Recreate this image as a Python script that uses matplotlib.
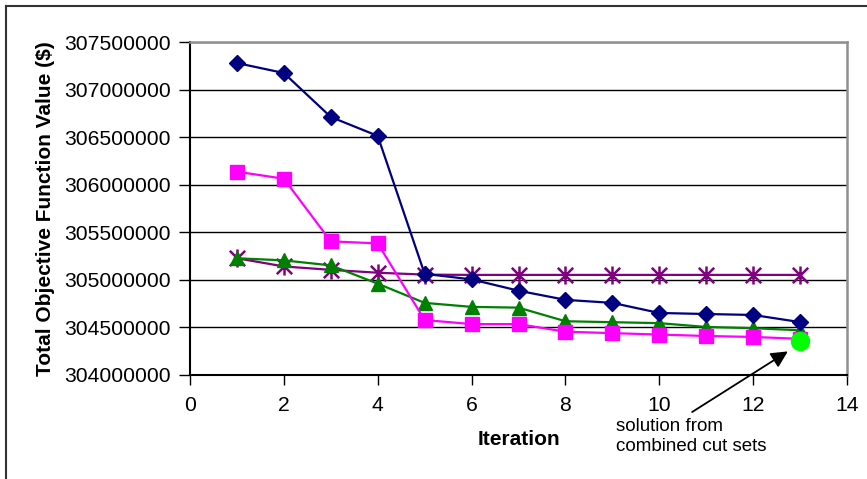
import matplotlib
matplotlib.use("Agg")
import matplotlib.pyplot as plt
from matplotlib.lines import Line2D
from matplotlib.path import Path

plt.rcParams['font.family'] = ['Liberation Sans', 'DejaVu Sans']

iterations = [1, 2, 3, 4, 5, 6, 7, 8, 9, 10, 11, 12, 13]
series_blue = [307279000, 307174000, 306712000, 306513000, 305063000, 305005000,
               304886000, 304790000, 304758000, 304652000, 304641000, 304631000, 304556000]
series_pink = [306137000, 306063000, 305405000, 305383000, 304578000, 304535000,
               304535000, 304455000, 304440000, 304425000, 304410000, 304400000, 304380000]
series_green = [305227000, 305205000, 305152000, 304960000, 304758000, 304716000,
                304708000, 304565000, 304555000, 304545000, 304505000, 304492000, 304470000]
series_purple = [305227000, 305141000, 305105000, 305075000, 305055000, 305052000,
                 305052000, 305052000, 305052000, 305052000, 305052000, 305052000, 305052000]
combined_x = [13]
combined_y = [304362000]

y_ticks = [304000000, 304500000, 305000000, 305500000, 306000000, 306500000, 307000000, 307500000]
x_ticks = [0, 2, 4, 6, 8, 10, 12, 14]

star = Path([(0, -1), (0, 1), (-0.85, -0.85), (0.85, 0.85), (-0.85, 0.85), (0.85, -0.85)],
            [Path.MOVETO, Path.LINETO, Path.MOVETO, Path.LINETO, Path.MOVETO, Path.LINETO])

W, H = 867, 479
fig = plt.figure(figsize=(W / 100, H / 100), dpi=100)
ax = fig.add_axes([190 / W, 1 - 375 / H, (847 - 190) / W, (375 - 42) / H])

ax.plot(iterations, series_blue, color='#000080', lw=1.6, marker='D', ms=8.5,
        mfc='#000080', mec='#000080', zorder=5)
ax.plot(iterations, series_pink, color='#FF00FF', lw=1.6, marker='s', ms=9.5,
        mfc='#FF00FF', mec='#FF00FF', zorder=4)
ax.plot(iterations, series_green, color='#008000', lw=1.6, marker='^', ms=10,
        mfc='#008000', mec='#008000', zorder=3)
ax.plot(iterations, series_purple, color='#800080', lw=1.6, marker=star, ms=13,
        mfc='#800080', mec='#800080', mew=1.8, zorder=2)
ax.plot(combined_x, combined_y, linestyle='none', marker='o', ms=13,
        mfc='#00FF00', mec='#00FF00', zorder=6)

ax.set_xlim(0, 14)
ax.set_ylim(304000000, 307500000)
ax.set_xticks(x_ticks)
ax.set_yticks(y_ticks)
ax.set_yticklabels([str(v) for v in y_ticks])
ax.grid(axis='y', color='black', lw=1.0)
ax.set_axisbelow(True)

ax.tick_params(axis='both', labelsize=15.2, colors='black', width=1.0)
ax.tick_params(axis='y', direction='out', length=8, pad=6)
ax.tick_params(axis='x', direction='out', length=7, pad=8)

for s in ['left', 'bottom']:
    ax.spines[s].set_color('black')
    ax.spines[s].set_linewidth(1.5)
for s in ['top', 'right']:
    ax.spines[s].set_color('#909090')
    ax.spines[s].set_linewidth(1.8)

ax.set_xlabel('Iteration', fontsize=15, fontweight='bold', labelpad=11)
ax.set_ylabel('Total Objective Function Value ($)', fontsize=15, fontweight='bold', labelpad=6)

ax.annotate('', xy=(12.74, 304248000), xytext=(10.70, 303611000),
            arrowprops=dict(arrowstyle='-|>', mutation_scale=25, color='black', lw=1.3,
                            shrinkA=0, shrinkB=0),
            annotation_clip=False)
fig.text(616 / W, 1 - 418 / H, 'solution from\ncombined cut sets', fontsize=13.5,
         ha='left', va='top', linespacing=1.2)

fig.add_artist(Line2D([6 / W, 1.0], [1 - 6 / H, 1 - 6 / H], transform=fig.transFigure,
                      color='#333333', lw=1.5))
fig.add_artist(Line2D([6 / W, 6 / W], [1 - 6 / H, 0.0], transform=fig.transFigure,
                      color='#333333', lw=1.5))

fig.savefig('out.png', dpi=100)
